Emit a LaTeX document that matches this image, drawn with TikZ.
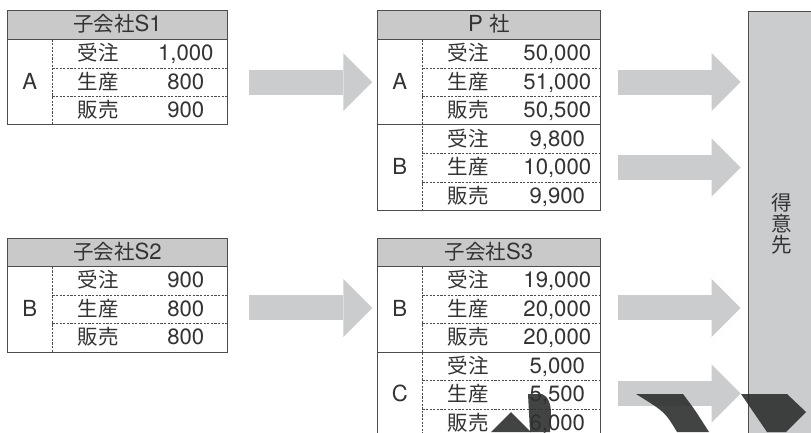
\documentclass[tikz,border=0pt]{standalone}
\usepackage{fontspec}
\setmainfont[Scale=1.08]{TeX Gyre Heros}
\newfontfamily\jp{Noto Sans CJK JP}
\usepackage{xcolor}
\usepackage{tikz}
\usetikzlibrary{matrix,positioning,arrows.meta}

\definecolor{txt}{HTML}{333333}
\definecolor{rule}{HTML}{4D4D4D}
\definecolor{headgray}{HTML}{C9C9CA}
\definecolor{arrowgray}{HTML}{CBCCCD}
\definecolor{ink}{HTML}{2E2F2F}

\tikzset{
	tab/.style={matrix of nodes, nodes in empty cells, anchor=north west,
		inner sep=0pt, outer sep=0pt, row sep=0pt, column sep=0pt,
		nodes={inner sep=0pt, outer sep=0pt, minimum height=28.5pt,
			text height=17pt, text depth=3pt, text=txt},
		column 1/.style={nodes={minimum width=45pt}},
		column 2/.style={nodes={minimum width=92pt, font=\jp}},
		column 3/.style={nodes={minimum width=83pt}}},
	widetab/.style={tab, column 3/.style={nodes={minimum width=86pt}}},
	head/.style={draw=rule, fill=headgray, line width=0.8pt, minimum width=220pt,
		minimum height=28.8pt, inner sep=0pt, outer sep=0pt,
		text height=17pt, text depth=3pt, text=txt},
	widehead/.style={head, minimum width=223pt},
	tabframe/.style={draw=rule, line width=0.8pt},
	dotline/.style={draw=rule, line width=0.6pt, dash pattern=on 2.2pt off 1.4pt},
	bigarrow/.style={draw=arrowgray, line width=25pt,
		-{Triangle[length=29pt,width=58pt,line width=0pt]}},
	custbox/.style={draw=rule, fill=arrowgray, line width=0.8pt, font=\jp,
		align=center, text=txt, minimum width=68pt, minimum height=426pt},
	blot/.style={fill=ink, fill opacity=0.9}
}

\begin{document}
\fontsize{20.5}{21}\selectfont
\begin{tikzpicture}[x=1pt,y=-1pt]
	\useasboundingbox (0,0) rectangle (811,432);
	\clip (0,0) rectangle (811,432);

	% subsidiaries and parent
	\matrix (s1) [tab] at (7.3,39.3) {
		 & 受注 & 1,000 \\
		A & 生産 & 800 \\
		 & 販売 & 900 \\
	};
	\node[head, above=0pt of s1] (s1h) {{\jp 子会社}S1};

	\matrix (s2) [tab] at (7.3,266.7) {
		 & 受注 & 900 \\
		B & 生産 & 800 \\
		 & 販売 & 800 \\
	};
	\node[head, above=0pt of s2] (s2h) {{\jp 子会社}S2};

	\matrix (p) [widetab] at (377.3,39.3) {
		 & 受注 & 50,000 \\
		A & 生産 & 51,000 \\
		 & 販売 & 50,500 \\
		 & 受注 & 9,800 \\
		B & 生産 & 10,000 \\
		 & 販売 & 9,900 \\
	};
	\node[widehead, above=0pt of p] (ph) {P {\jp 社}};

	\matrix (s3) [widetab] at (377.3,266.7) {
		 & 受注 & 19,000 \\
		B & 生産 & 20,000 \\
		 & 販売 & 20,000 \\
		 & 受注 & 5,000 \\
		C & 生産 & 5,500 \\
		 & 販売 & 6,000 \\
	};
	\node[widehead, above=0pt of s3] (s3h) {{\jp 子会社}S3};

	% rules
	\foreach \t/\n in {s1/3,s2/3,p/6,s3/6} {
		\draw[tabframe] (\t h.north west) rectangle (\t.south east);
		\draw[dotline] (\t-1-1.north east) -- (\t-\n-1.south east);
	}
	\foreach \t in {s1,s2} \foreach \r in {1,2}
		\draw[dotline] (\t-\r-2.south west) -- (\t-\r-3.south east);
	\foreach \t in {p,s3} {
		\foreach \r in {1,2,4,5}
			\draw[dotline] (\t-\r-2.south west) -- (\t-\r-3.south east);
		\draw[tabframe] (\t-3-1.south west) -- (\t-3-3.south east);
	}

	% customer
	\node[custbox] (cust) at (782,224) {得\\意\\先};
	\coordinate (in1) at (p-2-3.east -| cust.west);
	\coordinate (in2) at (p-5-3.east -| cust.west);
	\coordinate (in3) at (s3-2-3.east -| cust.west);
	\coordinate (in4) at (s3-5-3.east -| cust.west);

	% flows
	\draw[bigarrow] ([xshift=22pt]s1-2-3.east) -- ([xshift=-5pt]p-2-1.west);
	\draw[bigarrow] ([xshift=22pt,yshift=1.5pt]s2-2-3.east) -- ([xshift=-5pt,yshift=1.5pt]s3-2-1.west);
	\draw[bigarrow] ([xshift=18pt]p-2-3.east) -- ([xshift=-7pt]in1);
	\draw[bigarrow] ([xshift=18pt]p-5-3.east) -- ([xshift=-7pt]in2);
	\draw[bigarrow] ([xshift=18pt,yshift=1.5pt]s3-2-3.east) -- ([xshift=-7pt,yshift=1.5pt]in3);
	\draw[bigarrow] ([xshift=18pt,yshift=1.5pt]s3-5-3.east) -- ([xshift=-7pt,yshift=1.5pt]in4);

	% dark shapes along the lower edge
	\fill[blot] (491,432) -- (511,412) -- (531,432) -- cycle;
	\fill[blot] (528,394) -- (542,394) .. controls (548,396) and (551,404) .. (551,414) -- (550,432) -- (530,432) -- cycle;
	\fill[blot] (636,394) -- (683,394) .. controls (695,410) .. (709,432) -- (677,432) .. controls (665,412) .. (636,394) -- cycle;
	\fill[blot] (741,394) -- (787,394) -- (806,412) -- (786,432) -- (767,432) -- cycle;
\end{tikzpicture}
\end{document}
